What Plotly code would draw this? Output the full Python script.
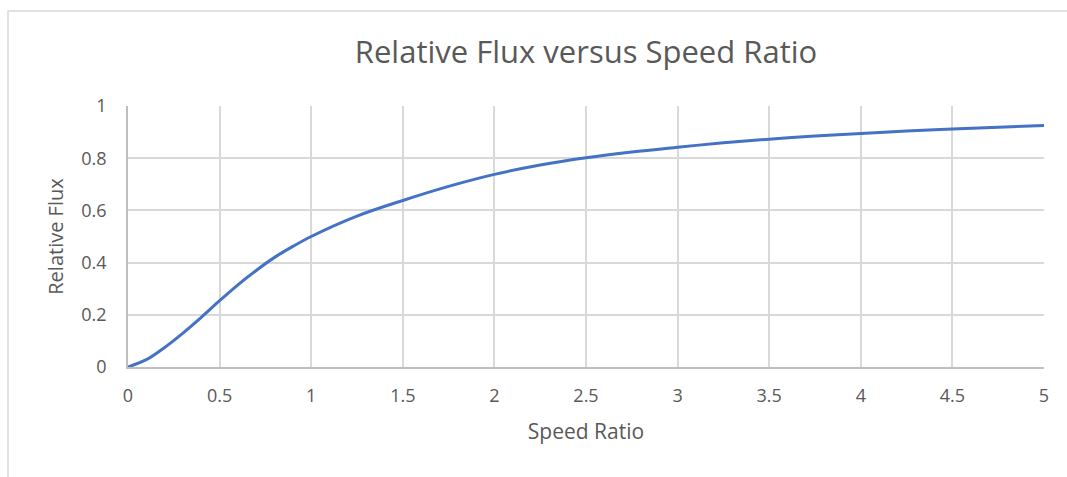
import plotly.graph_objects as go

# Speed ratio and relative flux readings
speed_ratio = [0, 0.1, 0.2, 0.3, 0.4, 0.5, 0.6, 0.7, 0.8, 0.9, 1.0, 1.25, 1.5, 1.75, 2.0,
               2.25, 2.5, 2.75, 3.0, 3.25, 3.5, 3.75, 4.0, 4.25, 4.5, 4.75, 5.0]
relative_flux = [0, 0.028, 0.075, 0.13, 0.19, 0.254, 0.315, 0.37, 0.42, 0.462, 0.5, 0.578,
                 0.638, 0.692, 0.738, 0.774, 0.802, 0.824, 0.842, 0.859, 0.873, 0.885,
                 0.895, 0.904, 0.912, 0.919, 0.925]

x_ticks = [0, 0.5, 1, 1.5, 2, 2.5, 3, 3.5, 4, 4.5, 5]
y_ticks = [0, 0.2, 0.4, 0.6, 0.8, 1]

FONT = "Open Sans"
TEXT = "#595959"
GRID = "#d9d9d9"

fig = go.Figure()
fig.add_trace(go.Scatter(
    x=speed_ratio, y=relative_flux, mode="lines",
    line=dict(color="#4472c4", width=3, shape="spline", smoothing=1.0),
    hoverinfo="x+y", showlegend=False,
))

fig.update_layout(
    width=1067, height=477,
    margin=dict(l=128, r=23, t=106, b=110),
    paper_bgcolor="white", plot_bgcolor="white",
    font=dict(family=FONT, color=TEXT, size=18),
    title=dict(text="Relative Flux versus Speed Ratio", x=0.5, xanchor="center",
               xref="paper", y=0.89, yanchor="middle",
               font=dict(family=FONT, size=31, color=TEXT)),
    xaxis=dict(range=[0, 5], tickvals=x_ticks, ticktext=[str(v) for v in x_ticks],
               showgrid=True, gridcolor=GRID, gridwidth=1.5,
               showline=True, linecolor="#bfbfbf", linewidth=1.5,
               zeroline=False, ticks="", ticklabelstandoff=12,
               tickfont=dict(size=18, color=TEXT),
               title=dict(text="Speed Ratio", font=dict(size=21, color=TEXT), standoff=18)),
    yaxis=dict(range=[0, 1], tickvals=y_ticks, ticktext=[str(v) for v in y_ticks],
               showgrid=True, gridcolor=GRID, gridwidth=1.5,
               showline=True, linecolor="#bfbfbf", linewidth=1.5,
               zeroline=False, ticks="", ticklabelstandoff=16,
               tickfont=dict(size=18, color=TEXT),
               title=dict(text="Relative Flux", font=dict(size=20, color=TEXT), standoff=12)),
    shapes=[dict(type="rect", xref="paper", yref="paper",
                 x0=-0.131, x1=1.2, y0=-1.0, y1=1.364,
                 line=dict(color=GRID, width=1.5), fillcolor="rgba(0,0,0,0)", layer="below")],
)

fig.write_html("out.html")
